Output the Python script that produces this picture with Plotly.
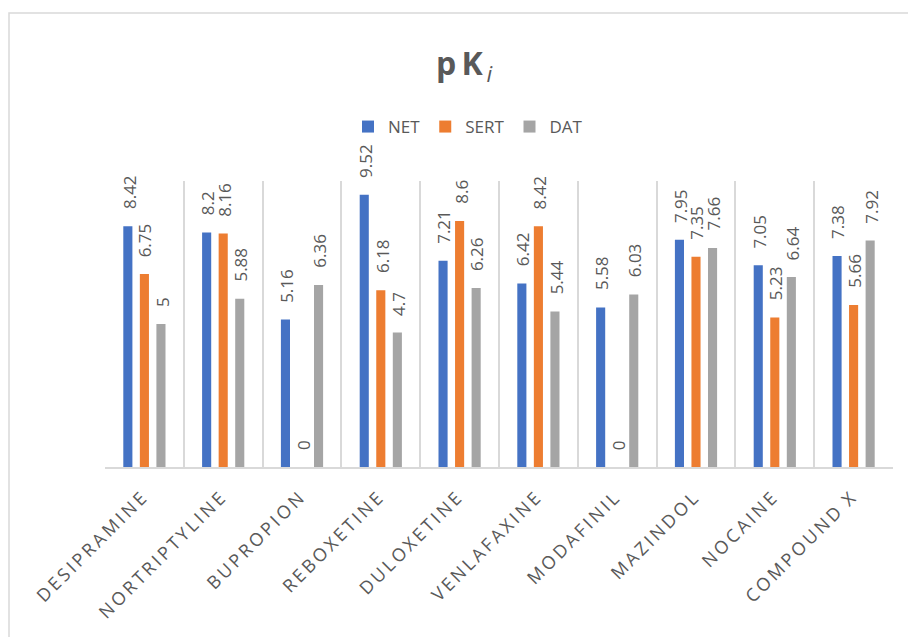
import plotly.graph_objects as go

# Binding affinities (pKi) for each compound at the three monoamine transporters
compounds = ["DESIPRAMINE", "NORTRIPTYLINE", "BUPROPION", "REBOXETINE", "DULOXETINE",
             "VENLAFAXINE", "MODAFINIL", "MAZINDOL", "NOCAINE", "COMPOUND X"]
net_values = [8.42, 8.2, 5.16, 9.52, 7.21, 6.42, 5.58, 7.95, 7.05, 7.38]
sert_values = [6.75, 8.16, 0, 6.18, 8.6, 8.42, 0, 7.35, 5.23, 5.66]
dat_values = [5, 5.88, 6.36, 4.7, 6.26, 5.44, 6.03, 7.66, 6.64, 7.92]

series_names = ["NET", "SERT", "DAT"]
series_values = [net_values, sert_values, dat_values]
series_colors = ["#4472C4", "#ED7D31", "#A5A5A5"]

TEXT = "#595959"
GRID = "#D9D9D9"
FONT = "Open Sans"

W, H = 908, 637
L, R, T, B = 105, 15, 181, 170
plot_w = W - L - R
plot_h = H - T - B

BARGAP = 0.37
BARGROUPGAP = 0.45


def spaced(word):
    # widen the tracking of the axis labels
    return "\u00a0\u00a0".join("\u2009".join(part) for part in word.split(" ")) + "\u00a0"


fig = go.Figure()
for name, vals, color in zip(series_names, series_values, series_colors):
    fig.add_trace(go.Bar(
        x=compounds, y=vals, name=name,
        marker=dict(color=color, line=dict(width=0)),
        hoverinfo="x+y+name",
    ))

# value labels, rotated, sitting above each bar
cat_w = plot_w / len(compounds)
slot_w = cat_w * (1 - BARGAP) / len(series_names)
annotations = []
for si, vals in enumerate(series_values):
    offset = (si - (len(series_names) - 1) / 2) * slot_w
    for cat, v in zip(compounds, vals):
        annotations.append(dict(
            x=cat, y=v, xref="x", yref="y",
            text=f"{v:g}", showarrow=False, textangle=-90,
            xanchor="center", yanchor="bottom",
            xshift=offset + 1, yshift=15,
            font=dict(family=FONT, size=17, color=TEXT),
        ))

fig.update_layout(
    width=W, height=H,
    margin=dict(l=L, r=R, t=T, b=B, autoexpand=False),
    paper_bgcolor="white", plot_bgcolor="white",
    barmode="group", bargap=BARGAP, bargroupgap=BARGROUPGAP,
    title=dict(
        text="<b>p\u2009K</b><sub><i>\u2009i</i></sub>",
        x=464 / W, xref="container", xanchor="center",
        y=1 - 64 / H, yref="container", yanchor="middle",
        font=dict(family=FONT, size=32, color=TEXT),
    ),
    legend=dict(
        orientation="h", x=(468 - L) / plot_w, xanchor="center",
        y=(H - B - 127) / plot_h, yref="paper", yanchor="middle",
        font=dict(family=FONT, size=17, color=TEXT),
        itemwidth=30, traceorder="normal", bgcolor="rgba(0,0,0,0)",
    ),
    xaxis=dict(
        tickvals=compounds, ticktext=[spaced(c) for c in compounds],
        tickangle=-45, tickson="boundaries", ticks="",
        ticklabelstandoff=9, automargin=False,
        showgrid=True, gridcolor=GRID, gridwidth=1.5,
        showline=True, linecolor=GRID, linewidth=1.5,
        tickfont=dict(family=FONT, size=18, color=TEXT),
        fixedrange=True,
    ),
    yaxis=dict(range=[0, 10], visible=False, showgrid=False, zeroline=False,
               automargin=False, fixedrange=True),
    annotations=annotations,
    shapes=[dict(
        type="rect", xref="paper", yref="paper",
        x0=(9 - L) / plot_w, x1=(W + 40 - L) / plot_w,
        y0=-(B + 40) / plot_h, y1=(H - B - 13) / plot_h,
        line=dict(color=GRID, width=1.5), fillcolor="rgba(0,0,0,0)", layer="below",
    )],
)

fig.write_html("out.html")
